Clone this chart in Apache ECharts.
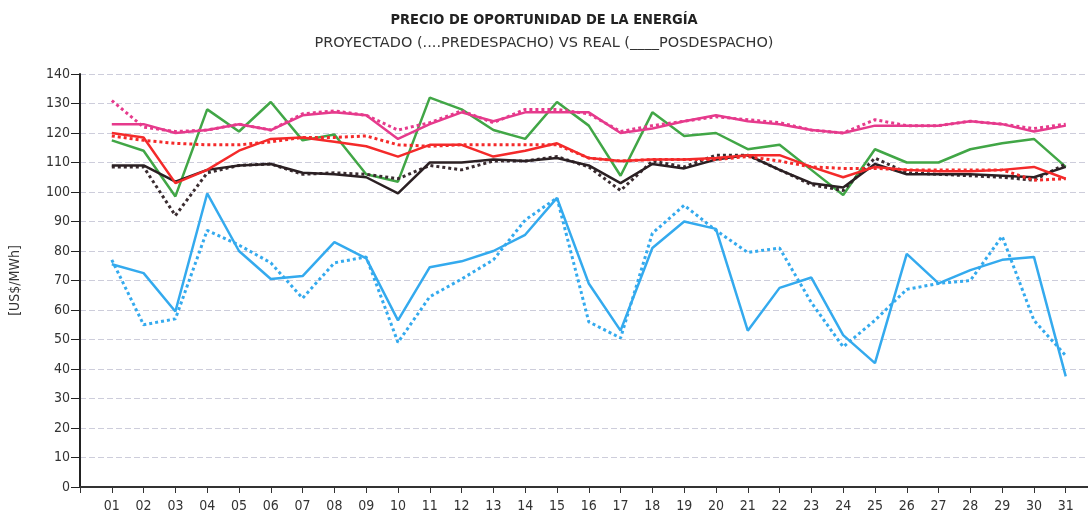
<!DOCTYPE html>
<html>
<head>
<meta charset="utf-8">
<script src="https://cdn.jsdelivr.net/npm/echarts@6/dist/echarts.min.js"></script>
<style>
  html, body { margin: 0; padding: 0; background: #fff; }
  #chart { width: 1088px; height: 518px; }
</style>
</head>
<body>
<div id="chart"></div>
<script>
// dias del mes
const days = ['01','02','03','04','05','06','07','08','09','10','11','12','13','14','15','16',
  '17','18','19','20','21','22','23','24','25','26','27','28','29','30','31']

// real (posdespacho) = linea continua, proyectado (predespacho) = punteada
const pinkReal = [123,123,120,121,123,121,126,127,126,118,123,127,124,127,127,127,120,121.5,124,126,124,123,121,120,122.5,122.5,122.5,124,123,120.5,122.5]
const pinkProj = [131,122,120.5,121,123,121,126.5,127.5,126,121,123.5,127.5,123.5,128,128,126.5,120.5,122.5,124,125.5,124.5,123.5,121,120,124.5,122.5,122.5,124,123,121.5,123]
const redReal = [120,118.5,103,107.5,114,118,118.5,117,115.5,112,116,116,112,114,116.5,111.5,110.5,111,111,111.5,112.5,112.5,108.5,105,108.5,107.5,107,107,107.5,108.5,104.5]
const redProj = [119,117.5,116.5,116,116,117,118.5,118.5,119,116,115.5,116,116,116,116,111.5,110.5,111,111,111,112,110.5,108.5,108,108,107.5,107.5,107.5,107.5,104,104.5]
const greenReal = [117.5,114,98.5,128,120.5,130.5,117.5,119.5,106,103.5,132,128,121,118,130.5,122.5,105.5,127,119,120,114.5,116,107.5,99,114.5,110,110,114.5,116.5,118,108.5]
const darkReal = [109,109,103.5,107.5,109,109.5,106.5,106,105,99.5,110,110,111,110.5,111.5,109,103,109.5,108,111,112.5,107.5,103,101.5,109.5,106,106,106,105.5,105,108.5]
const darkProj = [108.5,108.5,92,106.5,109,109.5,106,106.5,106,104.5,109,107.5,110.5,110.5,112,108.5,100.5,110.5,108.5,112.5,112.5,107.5,102.5,100.5,111.5,106.5,106,105.5,105,104,109.5]
const blueReal = [75.5,72.5,59.5,99.5,80,70.5,71.5,83,77.5,56.5,74.5,76.5,80,85.5,98,69,53,81,90,87.5,53,67.5,71,51.5,42,79,69,73.5,77,78,37.5]
const blueProj = [77,55,57,87,82,76,64,76,78,49,64.5,70.5,77,90.5,98,56,50.5,86,95.5,87,79.5,81,62.5,47.5,56.5,67,69,70,85,56.5,44.5]

const chart = echarts.init(document.getElementById('chart'))
const font = '"Liberation Sans Narrow", "DejaVu Sans Condensed", "Liberation Sans", sans-serif'

// arma los pares [dia, valor]
function toPoints(arr) {
  return arr.map((v, i) => [i + 1, v])
}

function line(data, color, dotted) {
  return {
    type: 'line',
    data: toPoints(data),
    symbol: 'none',
    silent: true,
    lineStyle: {
      color: color,
      width: dotted ? 3 : 2.5,
      type: dotted ? 'dotted' : 'solid'
    }
  }
}

chart.setOption({
  animation: false,
  title: {
    left: 'center',
    top: 8,
    text: 'PRECIO DE OPORTUNIDAD DE LA ENERGÍA',
    subtext: 'PROYECTADO (....PREDESPACHO) VS REAL (____POSDESPACHO)',
    itemGap: 8,
    textStyle: { fontFamily: font, fontSize: 14.5, fontWeight: 'bold', color: '#222' },
    subtextStyle: { fontFamily: '"DejaVu Sans", sans-serif', fontSize: 14.5, color: '#333' }
  },
  grid: { left: 77, right: 0, top: 74, bottom: 31 },
  xAxis: {
    type: 'value',
    min: 0,
    max: 31.7,
    interval: 1,
    axisLine: { lineStyle: { color: '#333', width: 2 } },
    axisTick: { length: 6, lineStyle: { color: '#333' } },
    splitLine: { show: false },
    axisLabel: {
      margin: 12,
      fontFamily: font,
      fontSize: 14,
      color: '#333',
      showMaxLabel: false,
      formatter: v => (v >= 1 && v <= 31 ? days[v - 1] : '')
    }
  },
  yAxis: {
    type: 'value',
    min: 0,
    max: 140,
    interval: 10,
    name: '[US$/MWh]',
    nameLocation: 'middle',
    nameRotate: 90,
    nameGap: 58,
    nameTextStyle: { fontFamily: font, fontSize: 14, color: '#333' },
    axisLine: { show: true, lineStyle: { color: '#222', width: 2 } },
    axisTick: { show: true, length: 9, lineStyle: { color: '#222' } },
    axisLabel: { margin: 10, padding: [0, 0, 8, 0], fontFamily: font, fontSize: 14, color: '#333' },
    splitLine: { lineStyle: { color: '#cdcddb', type: [6, 3], width: 1 } }
  },
  series: [
    line(blueProj, '#34aaee', true),
    line(blueReal, '#34aaee', false),
    line(greenReal, '#41a646', false),
    line(darkProj, '#3a2c30', true),
    line(darkReal, '#2b2023', false),
    line(pinkProj, '#e63a8c', true),
    line(pinkReal, '#e63a8c', false),
    line(redProj, '#f42a2a', true),
    line(redReal, '#f42a2a', false)
  ]
})
</script>
</body>
</html>
